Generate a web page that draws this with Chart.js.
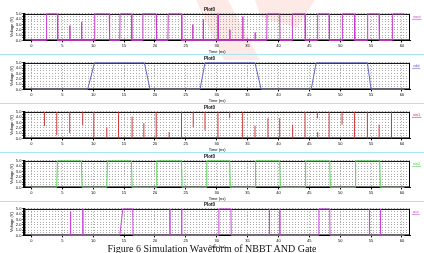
<!DOCTYPE html>
<html>
<head>
<meta charset="utf-8">
<script src="https://cdn.jsdelivr.net/npm/chart.js@4.4.1/dist/chart.umd.min.js"></script>
<style>
  body { margin:0; width:424px; height:253px; overflow:hidden; background:#fff; position:relative; font-family:'Liberation Sans', sans-serif; }
  .panel { position:absolute; left:0; width:424px; height:48px; }
  .sep { position:absolute; left:0; width:424px; height:1px; background:#a6e6f0; }
  .caption { position:absolute; left:0; width:424px; top:243px; text-align:center; font:10px 'Liberation Serif', serif; color:#111; }
  .wm { position:absolute; background:rgba(235,80,60,0.12); }
</style>
</head>
<body>
<div class="wm" style="left:180px;top:0;width:80px;height:60px;clip-path:polygon(20% 0,60% 0,100% 100%,55% 100%)"></div>
<div class="wm" style="left:255px;top:0;width:60px;height:28px;clip-path:polygon(0 0,100% 0,70% 100%,10% 60%)"></div>

<div class="sep" style="top:54px"></div>
<div class="sep" style="top:103px"></div>
<div class="sep" style="top:152px"></div>
<div class="sep" style="top:201px"></div>

<div class="panel" style="top:6px"><canvas id="p1"></canvas></div>
<div class="panel" style="top:55px"><canvas id="p2"></canvas></div>
<div class="panel" style="top:104px"><canvas id="p3"></canvas></div>
<div class="panel" style="top:153px"><canvas id="p4"></canvas></div>
<div class="panel" style="top:201px"><canvas id="p5"></canvas></div>

<div class="caption">Figure 6 Simulation Waveform of NBBT AND Gate</div>

<script>
// axis ticks
const xTicks = [0, 5, 10, 15, 20, 25, 30, 35, 40, 45, 50, 55, 60];
const yLabels = [0, 1, 2, 3, 4, 5];
const plotTitles = ['Plot0', 'Plot0', 'Plot0', 'Plot0', 'Plot0'];
const seriesNames = ['vout', 'vdd', 'vin1', 'vin2', 'out'];

// panel 1 waveform (ns, V)
const t1 = [0, 2.4, 2.45, 4.2, 4.25, 6.2, 6.22, 6.25, 8.1, 8.12, 8.15, 10.2, 10.25, 12.6, 12.65,
  14.3, 14.35, 16.2, 16.25, 18.0, 18.05, 20.2, 20.25, 22.1, 22.15, 24.3, 24.35, 26.1, 26.12, 26.15,
  27.8, 27.82, 27.85, 30.2, 30.22, 30.25, 32.1, 32.12, 32.15, 34.2, 34.22, 34.25, 36.2, 36.22, 36.25,
  38.1, 38.15, 40.2, 40.25, 42.2, 42.25, 44.3, 44.35, 46.3, 46.35, 48.2, 48.25, 50.3, 50.35, 52.3, 52.35,
  54.4, 54.45, 56.3, 56.35, 58.4, 58.45, 60.4];
const v1 = [0, 0, 5, 5, 0, 0, 2.8, 0, 0, 3.5, 0, 0, 5, 5, 0,
  0, 5, 5, 0, 0, 5, 5, 0, 0, 5, 5, 0, 0, 3.0, 0,
  0, 4.0, 0, 0, 5, 0, 0, 2.0, 0, 0, 4.5, 0, 0, 1.5, 0,
  0, 5, 5, 0, 0, 5, 5, 0, 0, 5, 5, 0, 0, 5, 5, 0,
  0, 5, 5, 0, 0, 5, 5];

// panel 2 waveform
const t2 = [0, 9.1, 10.2, 18.3, 19.2, 27.3, 28.1, 36.2, 37.2, 45.3, 46.1, 54.4, 55.0, 60.4];
const v2 = [0, 0, 5, 5, 0, 0, 5, 5, 0, 0, 5, 5, 0, 0];

// panel 3: vertical spikes (time, low, high)
const spikeT3 = [2.1, 4.1, 6.2, 8.3, 10.1, 12.2, 14.1, 16.3, 18.2, 20.2, 22.3, 24.3, 26.2, 28.1, 30.2,
  32.1, 34.2, 36.2, 38.3, 40.2, 42.3, 44.3, 46.3, 46.35, 48.2, 50.3, 52.3, 54.4, 56.3, 58.3];
const spikeLo3 = [2.35, 0.6, 1.0, 2.5, 0, 0, 0, 0, 0, 0, 0, 0, 2.1, 1.5, 0,
  3.8, 0, 0, 0, 0, 0, 0, 3.8, 0, 0, 2.6, 0, 0, 0, 0];
const spikeHi3 = [5, 5, 5, 5, 5, 2.1, 5, 4.1, 2.9, 5, 1.2, 5, 5, 5, 5,
  5, 5, 2.4, 3.8, 3.8, 2.6, 5, 5, 1.2, 5, 5, 5, 5, 2.6, 5];

// panel 4 waveform
const t4 = [0, 4.1, 4.2, 8.1, 8.2, 12.2, 12.3, 16.2, 16.3, 20.2, 20.3, 24.3, 24.4, 28.3, 28.4,
  32.1, 32.2, 36.2, 36.3, 40.2, 40.3, 44.3, 44.4, 48.3, 48.4, 52.4, 52.5, 56.4, 56.5, 60.4];
const v4 = [0, 0, 5, 5, 0, 0, 5, 5, 0, 0, 5, 5, 0, 0, 5,
  5, 0, 0, 5, 5, 0, 0, 5, 5, 0, 0, 5, 5, 0, 0];

// panel 5 waveform
const t5 = [0, 6.3, 6.32, 6.35, 8.3, 8.32, 8.35, 14.3, 14.8, 16.4, 16.45, 22.4, 22.42, 22.45,
  24.3, 24.32, 24.35, 30.3, 30.35, 32.3, 32.35, 38.5, 38.52, 38.55, 40.2, 40.22, 40.25,
  46.5, 46.55, 48.3, 48.35, 54.7, 54.72, 54.75, 56.5, 56.52, 56.55, 60.4];
const v5 = [0, 0, 4.5, 0, 0, 5, 0, 0, 5, 5, 0, 0, 5, 0,
  0, 5, 0, 0, 5, 5, 0, 0, 5, 0, 0, 5, 0,
  0, 5, 5, 0, 0, 5, 0, 0, 5, 0, 0];

const colors = ['#c83ccc', '#6464c8', '#cc3838', '#50d050', '#c846dc'];

function toPts(ts, vs) { return ts.map((t, i) => ({ x: t, y: vs[i] })); }
function spikePts(ts, lo, hi) {
  const out = [];
  ts.forEach((t, i) => { out.push({ x: t, y: lo[i] }, { x: t, y: hi[i] }, { x: t, y: null }); });
  return out;
}

// black box round the plot area, plus a small trace label at its right
const frame = {
  id: 'frame',
  beforeDatasetsDraw(chart) {
    const a = chart.chartArea, c = chart.ctx;
    c.save();
    c.strokeStyle = '#000'; c.lineWidth = 1;
    c.strokeRect(a.left + 0.5, a.top + 0.5, a.right - a.left - 1, a.bottom - a.top - 1);
    c.restore();
  },
  afterDraw(chart) {
    const a = chart.chartArea, c = chart.ctx, ds = chart.data.datasets[0];
    c.save();
    c.font = '4px "Liberation Sans"';
    c.fillStyle = ds.borderColor; c.strokeStyle = ds.borderColor; c.lineWidth = 0.6;
    c.textBaseline = 'middle';
    const w = c.measureText(ds.label).width;
    c.fillText(ds.label, a.right + 3, a.top + 3);
    c.beginPath(); c.moveTo(a.right + 2, a.top + 5.5); c.lineTo(a.right + 4 + w, a.top + 5.5); c.stroke();
    c.restore();
  }
};

const tiny = { family: 'Liberation Sans', size: 4 };

function makePanel(id, idx, pts) {
  new Chart(document.getElementById(id), {
    type: 'line',
    data: { datasets: [{ label: seriesNames[idx], data: pts, borderColor: colors[idx], backgroundColor: colors[idx],
      borderWidth: 1, pointRadius: 0, tension: 0, spanGaps: false, clip: 2 }] },
    options: {
      responsive: true, maintainAspectRatio: false, animation: false, devicePixelRatio: 1,
      layout: { padding: { left: 9, right: 14, top: 0, bottom: 0 } },
      plugins: {
        title: { display: true, text: plotTitles[idx], color: '#000', font: { family: 'Liberation Sans', size: 4.5, weight: 'bold' }, padding: { top: 1, bottom: 1.5 } },
        legend: { display: false },
        tooltip: { enabled: false }
      },
      scales: {
        x: { type: 'linear', min: -1.15, max: 61.3,
          afterBuildTicks: ax => { ax.ticks = xTicks.map(v => ({ value: v })); },
          ticks: { font: tiny, color: '#000', padding: 1, maxRotation: 0, autoSkip: false },
          grid: { color: '#aaa', tickLength: 2, tickColor: '#000' },
          border: { color: '#000', width: 1, dash: [1, 2] },
          title: { display: true, text: 'Time (ns)', font: tiny, color: '#000', padding: { top: 0, bottom: 0 } } },
        y: { min: 0, max: 5,
          ticks: { stepSize: 0.5, font: tiny, color: '#000', padding: 1, autoSkip: false,
            callback: v => yLabels.includes(v) ? v.toFixed(1) : '' },
          grid: { color: '#aaa', tickLength: 2, tickColor: '#000' },
          border: { color: '#000', width: 2, dash: [1, 2] },
          title: { display: true, text: 'Voltage (V)', font: tiny, color: '#000', padding: { top: 0, bottom: 1 } } }
      }
    },
    plugins: [frame]
  });
}

makePanel('p1', 0, toPts(t1, v1));
makePanel('p2', 1, toPts(t2, v2));
makePanel('p3', 2, spikePts(spikeT3, spikeLo3, spikeHi3));
makePanel('p4', 3, toPts(t4, v4));
makePanel('p5', 4, toPts(t5, v5));
</script>
</body>
</html>
